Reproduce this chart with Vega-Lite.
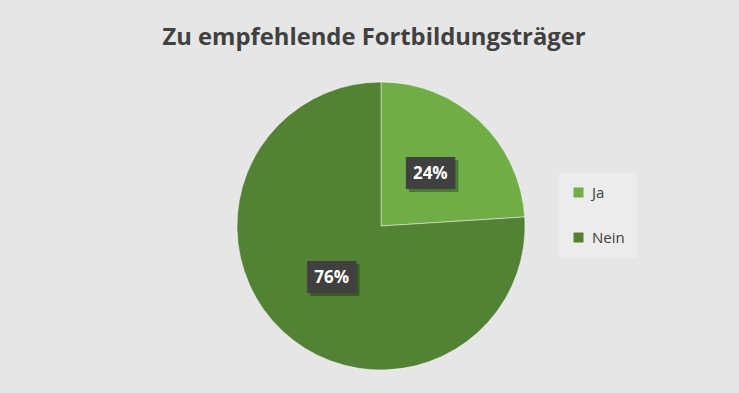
{
  "$schema": "https://vega.github.io/schema/vega-lite/v6.json",
  "width": 716,
  "height": 288,
  "autosize": {"type": "none"},
  "padding": {"left": 23, "top": 82, "right": 0, "bottom": 23},
  "background": "#e6e6e6",
  "config": {"view": {"stroke": null}},
  "title": {
    "text": "Zu empfehlende Fortbildungsträger",
    "font": "Open Sans",
    "fontWeight": "bold",
    "fontSize": 23.8,
    "color": "#404040",
    "anchor": "middle",
    "baseline": "alphabetic",
    "offset": 11,
    "dx": -7
  },
  "data": {
    "values": [
      {"kategorie": "Ja", "anteil": 24, "label": "24%", "ord": 1},
      {"kategorie": "Nein", "anteil": 76, "label": "76%", "ord": 2}
    ]
  },
  "encoding": {
    "theta": {"field": "anteil", "type": "quantitative", "stack": true},
    "order": {"field": "ord", "type": "quantitative"}
  },
  "layer": [
    {
      "mark": {"type": "arc", "outerRadius": 144, "stroke": "#ffffff", "strokeWidth": 1, "strokeOpacity": 0.45},
      "encoding": {
        "color": {
          "field": "kategorie",
          "type": "nominal",
          "scale": {"domain": ["Ja", "Nein"], "range": ["#70AD47", "#548235"]},
          "legend": {
            "orient": "none",
            "legendX": 536,
            "legendY": 91,
            "title": null,
            "fillColor": "#ececec",
            "padding": 12,
            "symbolType": "square",
            "symbolSize": 100,
            "symbolStrokeWidth": 0,
            "labelFont": "Open Sans",
            "labelFontSize": 15,
            "labelColor": "#404040",
            "labelOffset": 6,
            "rowPadding": 29
          }
        }
      }
    },
    {
      "mark": {"type": "text", "radius": 72, "font": "DejaVu Sans Mono", "fontSize": 27, "baseline": "middle", "align": "center", "fill": "#000000", "opacity": 0.3, "dx": 3, "dy": 3},
      "encoding": {"text": {"value": "███"}}
    },
    {
      "mark": {"type": "text", "radius": 72, "font": "DejaVu Sans Mono", "fontSize": 27, "baseline": "middle", "align": "center", "fill": "#404040"},
      "encoding": {"text": {"value": "███"}}
    },
    {
      "mark": {"type": "text", "radius": 72, "font": "Open Sans", "fontWeight": "bold", "fontSize": 17, "baseline": "middle", "align": "center", "fill": "#ffffff"},
      "encoding": {"text": {"field": "label", "type": "nominal"}}
    }
  ]
}
